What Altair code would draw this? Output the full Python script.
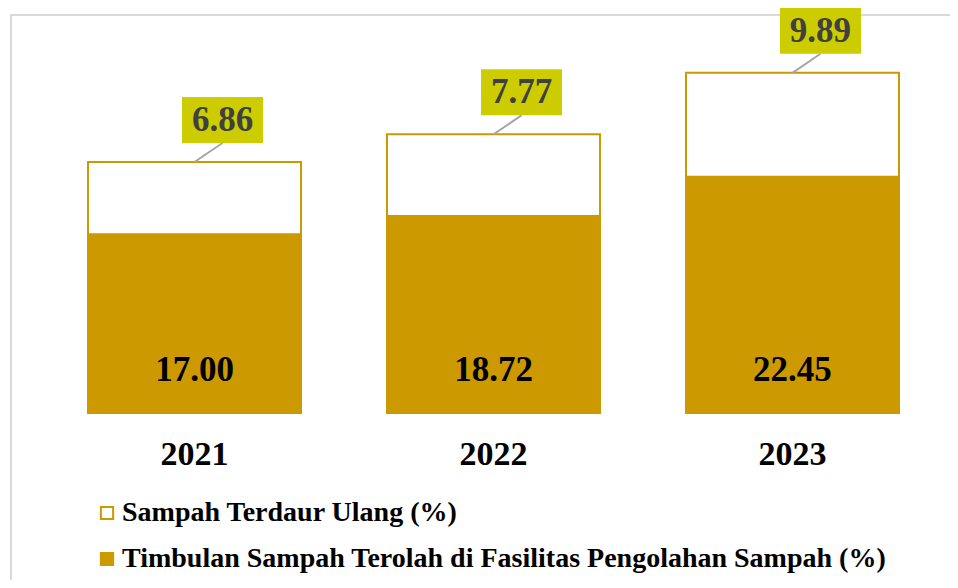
import altair as alt
import pandas as pd

years = ["2021", "2022", "2023"]
timbulan = [17.00, 18.72, 22.45]
daur_ulang = [6.86, 7.77, 9.89]
series_names = ["Sampah Terdaur Ulang (%)",
                "Timbulan Sampah Terolah di Fasilitas Pengolahan Sampah (%)"]
title_text = "Provinsi Sulawesi Selatan 2021-2023"

GOLD = "#CC9900"
LIME = "#CCCC00"
SERIF = "Liberation Serif"

rows = []
for y, t, d in zip(years, timbulan, daur_ulang):
    rows.append({"year": y, "series": series_names[1], "y0": 0.0, "y1": t, "value": t})
for y, t, d in zip(years, timbulan, daur_ulang):
    rows.append({"year": y, "series": series_names[0], "y0": t, "y1": t + d, "value": d})
long_df = pd.DataFrame(rows)
wide_df = pd.DataFrame({"year": years, "timbulan": timbulan, "daur": daur_ulang})
wide_df["total"] = wide_df["timbulan"] + wide_df["daur"]

xscale = alt.Scale(domain=years, range=[80, 891], paddingInner=0.2876, paddingOuter=0)
yscale = alt.Scale(domain=[0, 37.93], nice=False, zero=False, padding=0)

xaxis = alt.Axis(title=None, domain=False, ticks=False, grid=False, labelAngle=0,
                 labelFont=SERIF, labelFontSize=34, labelFontWeight="bold",
                 labelColor="black", labelPadding=24, labelOverlap=False)
xenc = alt.X("year:O", scale=xscale, axis=xaxis)

bars = alt.Chart(long_df).mark_bar(stroke=GOLD, strokeWidth=2).encode(
    x=xenc,
    y=alt.Y("y0:Q", scale=yscale, axis=None),
    y2="y1:Q",
    fill=alt.Fill("series:N",
                  scale=alt.Scale(domain=series_names, range=["#FFFFFF", GOLD]),
                  legend=alt.Legend(title=None, orient="none", legendX=85, legendY=485,
                                    direction="vertical", symbolType="square", symbolSize=150,
                                    symbolStrokeColor=GOLD, symbolStrokeWidth=2,
                                    symbolOpacity=1, labelFont=SERIF, labelFontSize=28,
                                    labelFontWeight="bold", labelColor="black",
                                    labelLimit=0, labelOffset=1, rowPadding=18)),
)

inner = alt.Chart(wide_df).mark_text(font=SERIF, fontSize=35, fontWeight="bold",
                                     color="black", baseline="middle", dy=-43).encode(
    x=xenc,
    y=alt.datum(0, scale=yscale, axis=None),
    text=alt.Text("timbulan:Q", format=".2f"),
)

# leader line drawn as a custom stroked symbol anchored at the top of each stack
leader = alt.Chart(wide_df).mark_point(shape="M0,0L1,-0.68", size=3136, filled=False,
                                       color="#A6A6A6", strokeWidth=2, opacity=1).encode(
    x=xenc,
    y=alt.Y("total:Q", scale=yscale, axis=None),
)

box = alt.Chart(wide_df).mark_point(shape="M-1,-0.568H1V0.568H-1Z", size=6561, filled=True,
                                    color=LIME, opacity=1, strokeWidth=0,
                                    xOffset=28, yOffset=-42).encode(
    x=xenc,
    y=alt.Y("total:Q", scale=yscale, axis=None),
)

callout = alt.Chart(wide_df).mark_text(font=SERIF, fontSize=35, fontWeight="bold",
                                       color="#404040", baseline="middle",
                                       dx=28, dy=-42).encode(
    x=xenc,
    y=alt.Y("total:Q", scale=yscale, axis=None),
    text=alt.Text("daur:Q", format=".2f"),
)

border_left = alt.Chart(wide_df).mark_rule(color="#D9D9D9", strokeWidth=2).encode(
    x=alt.value(3), y=alt.value(0), y2=alt.value(566))
border_top = alt.Chart(wide_df).mark_rule(color="#D9D9D9", strokeWidth=2).encode(
    x=alt.value(2), x2=alt.value(942), y=alt.value(1))

chart = alt.layer(border_left, border_top, bars, inner, leader, box, callout).properties(
    width=942, height=399,
    autosize=alt.AutoSizeParams(type="none"),
    padding={"left": 0, "top": 6, "right": 0, "bottom": 167},
    title=alt.TitleParams(title_text, font=SERIF, fontSize=37, fontWeight="normal",
                          color="black", anchor="middle", dx=14, baseline="alphabetic",
                          offset=1, frame="group"),
).configure(background="white").configure_view(stroke=None)

chart.save("out.html", embed_options={"renderer": "svg", "actions": False})
